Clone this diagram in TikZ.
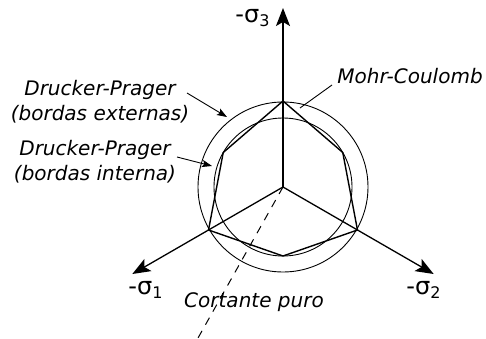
\documentclass[tikz,border=0pt]{standalone}
\usepackage{fontspec}
\setmainfont{DejaVu Sans}
\usetikzlibrary{arrows.meta}

\begin{document}
\begin{tikzpicture}[x=0.5pt,y=0.5pt,
  axis/.style={line width=0.65pt,-{Stealth[length=9pt,width=7pt,inset=2pt]}},
  pointer/.style={line width=0.45pt,-{Stealth[length=5pt,width=3.6pt,inset=1pt]}},
  leader/.style={line width=0.45pt},
  tag/.style={font=\itshape\fontsize{10}{12.5}\selectfont,align=center,inner sep=0pt},
  axlabel/.style={font=\large,inner sep=0pt}]
\useasboundingbox (-283,-151) rectangle (203,187);
\coordinate (O) at (0,0);
% principal axes
\coordinate (s3) at (90:179);
\coordinate (s1) at (210:174);
\coordinate (s2) at (330:174);
\draw[axis] (O) -- (s3);
\draw[axis] (O) -- (s1);
\draw[axis] (O) -- (s2);
\node[axlabel] (l3) at (-30,169) {-σ\textsubscript{3}};
\node[axlabel] (l1) at (-137,-103) {-σ\textsubscript{1}};
\node[axlabel] (l2) at (141,-103) {-σ\textsubscript{2}};
% Drucker-Prager circles
\draw[line width=0.45pt] (O) circle (85);
\draw[line width=0.45pt] (O) circle (69);
% Mohr-Coulomb hexagon
\foreach \a/\r [count=\i] in {90/86,150/69,210/86,270/69,330/86,30/69}
{\coordinate (v\i) at (\a:\r);}
\draw[line width=0.7pt,line join=miter] (v1) -- (v2) -- (v3) -- (v4) -- (v5) -- (v6) -- cycle;
% pure shear
\coordinate (ps) at (-85,-151);
\draw[line width=0.5pt,dash pattern=on 4pt off 3.5pt] (O) -- (ps);
% labels
\node[tag] (mc) at (127,111) {Mohr-Coulomb};
\coordinate (mcA) at (49,102);
\coordinate (mcB) at (17,79);
\draw[leader] (mcA) -- (mcB);
\node[tag] (dpe) at (-183,85) {Drucker-Prager\\(bordas externas)};
\coordinate (dpeA) at (-96,94);
\coordinate (dpeB) at (-56,70);
\draw[pointer] (dpeA) -- (dpeB);
\node[tag] (dpi) at (-188,25) {Drucker-Prager\\(bordas interna)};
\coordinate (dpiA) at (-106,30);
\coordinate (dpiB) at (-71,21);
\draw[pointer] (dpiA) -- (dpiB);
\node[tag] (cp) at (-29,-115) {Cortante puro};

\end{tikzpicture}
\end{document}
